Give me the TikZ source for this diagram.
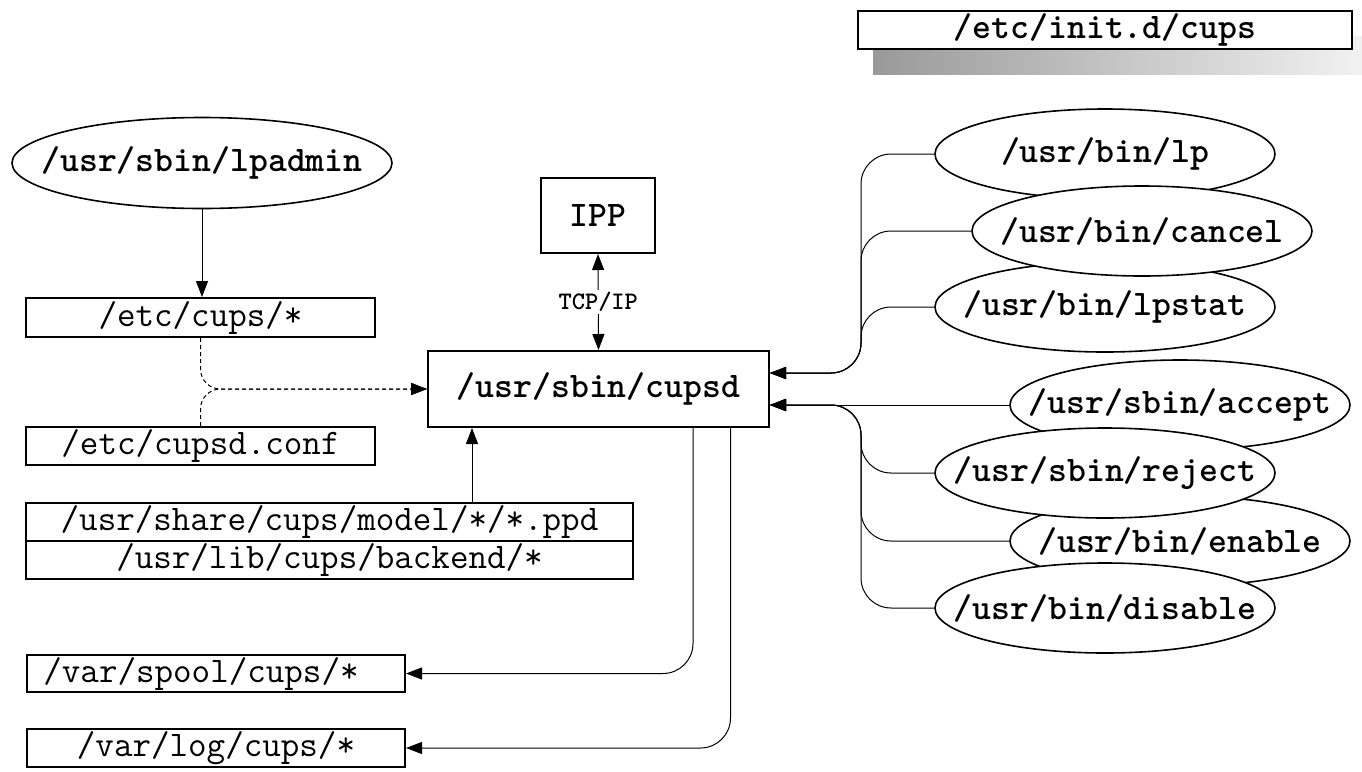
\documentclass[tikz,border=0pt]{standalone}
\usepackage{tikz}
\usetikzlibrary{shapes.geometric,arrows.meta}

\newcommand{\filefont}{\fontsize{18}{20}\selectfont\ttfamily}
\newcommand{\progfont}{\fontsize{18}{20}\selectfont\ttfamily\bfseries}
\newcommand{\tcpfont}{\fontsize{12.6}{14}\selectfont\ttfamily\bfseries}
\newcommand{\zw}[1]{\makebox[0pt]{#1}}

\begin{document}
\begin{tikzpicture}[x=0.5pt, y=-0.5pt,
    >={Triangle[length=8pt,width=6pt]},
    file/.style={draw, line width=1pt, fill=white, inner sep=0pt, font=\filefont},
    prog/.style={draw, ellipse, line width=0.8pt, fill=white, inner sep=0pt,
                 minimum width=170pt, minimum height=45pt, font=\progfont},
    link/.style={line width=0.5pt, ->}]
    \useasboundingbox (0,0) rectangle (1362,772);

    % Init script (top right)
    \shade[left color=black!40, right color=black!5] (873,36) rectangle (1367,74);
    \node[file, font=\progfont, minimum width=247pt, minimum height=19pt] (initd) at (1105,30) {/etc/init.d/cups};

    % Admin side
    \node[prog, minimum width=190pt, minimum height=45.5pt] (lpadmin) at (202,163) {\zw{/usr/sbin/lpadmin}};
    \node[file, minimum width=174.5pt, minimum height=19.5pt] (etccups) at (200.5,317.5) {/etc/cups/*};
    \node[file, minimum width=174.5pt, minimum height=19pt] (cupsdconf) at (200.5,446) {/etc/cupsd.conf};
    \node[file, minimum width=303.5pt, minimum height=19pt] (model) at (329.5,522) {/usr/share/cups/model/*/*.ppd};
    \node[file, minimum width=303.5pt, minimum height=19pt] (backend) at (329.5,560) {/usr/lib/cups/backend/*};
    \node[file, minimum width=189pt, minimum height=18.75pt] (spool) at (216,673.5) {\hspace*{-15pt}/var/spool/cups/*};
    \node[file, minimum width=189pt, minimum height=18.75pt] (log) at (216,748) {/var/log/cups/*};

    % Server
    \node[file, font=\progfont, minimum width=170.5pt, minimum height=38pt] (cupsd) at (598.5,389) {/usr/sbin/cupsd};
    \node[file, font=\progfont, minimum width=57pt, minimum height=37.5pt] (ipp) at (598,215.5) {IPP};

    % Client commands
    \node[prog] (lp) at (1105,154) {\zw{/usr/bin/lp}};
    \node[prog] (lpstat) at (1105,307) {\zw{/usr/bin/lpstat}};
    \node[prog] (cancel) at (1142,231) {\zw{/usr/bin/cancel}};
    \node[prog] (accept) at (1180,405) {\zw{/usr/sbin/accept}};
    \node[prog] (enable) at (1180,541) {\zw{/usr/bin/enable}};
    \node[prog] (reject) at (1105,473) {\zw{/usr/sbin/reject}};
    \node[prog] (disable) at (1105,608) {\zw{/usr/bin/disable}};

    % Connectors, left
    \draw[link] (lpadmin.south) -- (lpadmin.south |- etccups.north);
    \draw[link, dash pattern=on 2pt off 1.5pt, rounded corners=10pt] (etccups.south) |- (cupsd.west);
    \draw[link, dash pattern=on 2pt off 1.5pt, rounded corners=10pt] (cupsdconf.north) |- (cupsd.west);
    \draw[link] ([xshift=71.25pt]model.north) -- ([xshift=71.25pt]model.north |- cupsd.south);
    \draw[link, <->] (cupsd.north) -- node[fill=white, font=\tcpfont, inner sep=1pt] {TCP/IP} (ipp.south);
    \draw[link, rounded corners=15pt] ([xshift=47.25pt]cupsd.south) |- (spool.east);
    \draw[link, rounded corners=15pt] ([xshift=66pt]cupsd.south) |- (log.east);

    % Connectors, right
    \foreach \client in {lp, cancel, lpstat}
        \draw[link, rounded corners=15pt] (\client.west) -| ([xshift=45.5pt,yshift=8pt]cupsd.east) -- ([yshift=8pt]cupsd.east);
    \draw[link] (accept.west) -- ([yshift=-8pt]cupsd.east);
    \foreach \client in {reject, enable, disable}
        \draw[link, rounded corners=15pt] (\client.west) -| ([xshift=45.5pt,yshift=-8pt]cupsd.east) -- ([yshift=-8pt]cupsd.east);

\end{tikzpicture}
\end{document}
